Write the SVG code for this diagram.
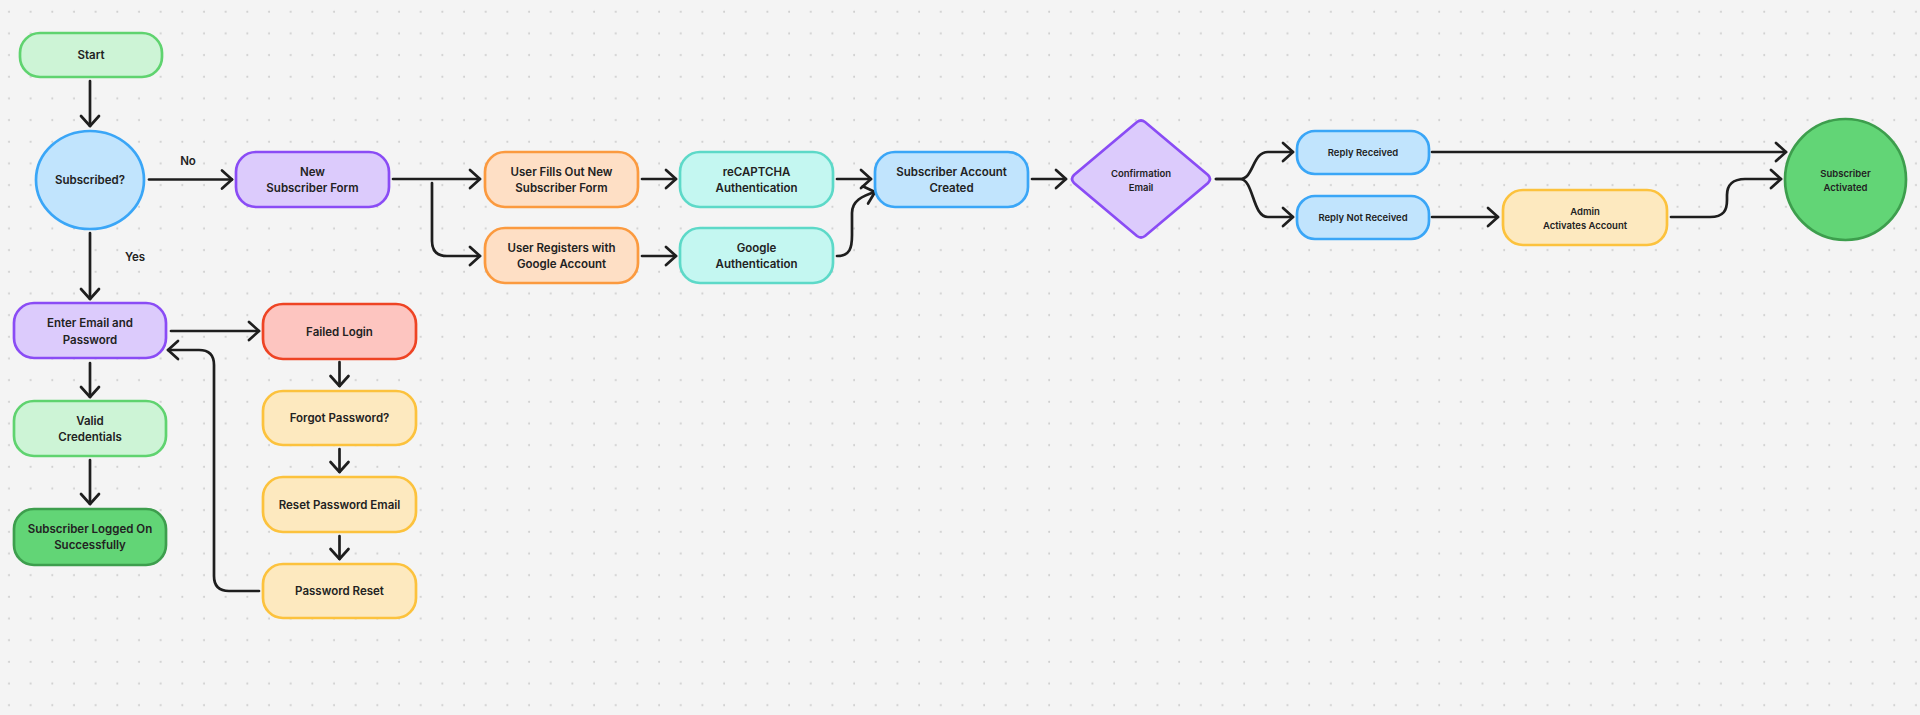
<svg xmlns="http://www.w3.org/2000/svg" width="1920" height="715" viewBox="0 0 1920 715">
<defs>
<pattern id="dots" patternUnits="userSpaceOnUse" x="0" y="0" width="21.67" height="21.67">
<circle cx="9" cy="11.7" r="1" fill="#cdcdcd"/>
</pattern>
<marker id="arr" markerUnits="userSpaceOnUse" viewBox="-13 -12 16 24" markerWidth="16" markerHeight="24" refX="0" refY="0" orient="auto">
<path d="M-10,-9 L0,0 L-10,9" fill="none" stroke="#1e1e1e" stroke-width="2.7" stroke-linecap="round" stroke-linejoin="round"/>
</marker>
<style>
.t{font-family:Inter,"Liberation Sans",sans-serif;font-weight:600;font-size:11.5px;fill:#222;text-anchor:middle;dominant-baseline:central}
.s{font-size:9.5px}
.green{fill:#cdf4d6;stroke:#5fd36f;stroke-width:2.7}
.dgreen{fill:#62d576;stroke:#3d9e4d;stroke-width:2.7}
.blue{fill:#c1e4fd;stroke:#3aa6f7;stroke-width:2.7}
.purple{fill:#dccbfc;stroke:#8a4cf5;stroke-width:2.7}
.red{fill:#fdc5c0;stroke:#ee4424;stroke-width:2.7}
.yellow{fill:#fde9bf;stroke:#fcc23d;stroke-width:2.7}
.orange{fill:#fedfc5;stroke:#fb9a3f;stroke-width:2.7}
.teal{fill:#c4f7f1;stroke:#5dd9c8;stroke-width:2.7}
.c{fill:none;stroke:#1e1e1e;stroke-width:2.7;stroke-linecap:round;stroke-linejoin:round}
</style>
</defs>
<rect width="1920" height="715" fill="#f4f4f4"/>
<rect width="1920" height="715" fill="url(#dots)"/>

<g id="connectors">
<path class="c" marker-end="url(#arr)" d="M90,81 L90,126"/>
<path class="c" marker-end="url(#arr)" d="M149,179.5 L232,179.5"/>
<path class="c" marker-end="url(#arr)" d="M90,233 L90,299"/>
<path class="c" marker-end="url(#arr)" d="M393,179 L480,179"/>
<path class="c" marker-end="url(#arr)" d="M432,183 L432,241 Q432,256 447,256 L480,256"/>
<path class="c" marker-end="url(#arr)" d="M642,179 L676,179"/>
<path class="c" marker-end="url(#arr)" d="M642,256 L676,256"/>
<path class="c" marker-end="url(#arr)" d="M837,179 L871,179"/>
<path class="c" marker-end="url(#arr)" d="M837,256 C850,256 852,248 852,235 L852,213 C852,201 862,196 875,192"/>
<path class="c" marker-end="url(#arr)" d="M1032,179 L1066,179"/>
<path class="c" marker-end="url(#arr)" d="M1216,179 L1240,179 C1254,179 1252,152 1268,152 L1293,152"/>
<path class="c" marker-end="url(#arr)" d="M1216,179 L1240,179 C1254,179 1252,217 1268,217 L1293,217"/>
<path class="c" marker-end="url(#arr)" d="M1432,152 L1786,152"/>
<path class="c" marker-end="url(#arr)" d="M1432,217 L1498,217"/>
<path class="c" marker-end="url(#arr)" d="M1671,217 L1710,217 C1724,217 1727,210 1727,200 L1727,195 C1727,185 1733,179 1745,179 L1781,179"/>
<path class="c" marker-end="url(#arr)" d="M171,331 L259,331"/>
<path class="c" marker-end="url(#arr)" d="M259,591 L229,591 Q214,591 214,576 L214,365 Q214,350 199,350 L168,350"/>
<path class="c" marker-end="url(#arr)" d="M339.5,362 L339.5,386"/>
<path class="c" marker-end="url(#arr)" d="M339.5,449 L339.5,472"/>
<path class="c" marker-end="url(#arr)" d="M339.5,536 L339.5,559"/>
<path class="c" marker-end="url(#arr)" d="M90,363 L90,397"/>
<path class="c" marker-end="url(#arr)" d="M90,460 L90,504"/>
<text class="t" x="188" y="161">No</text>
<text class="t" x="135" y="257">Yes</text>
</g>

<g id="start"><rect class="green" x="20" y="33" width="142" height="44" rx="20"/><text class="t" x="91" y="55">Start</text></g>
<g id="subscribed"><ellipse class="blue" cx="90" cy="180" rx="54" ry="49"/><text class="t" x="90" y="180">Subscribed?</text></g>
<g id="newform"><rect class="purple" x="236" y="152" width="153" height="55" rx="20"/><text class="t" x="312.5" y="172">New</text><text class="t" x="312.5" y="188">Subscriber Form</text></g>
<g id="fillsout"><rect class="orange" x="485" y="152" width="153" height="55" rx="20"/><text class="t" x="561.5" y="172">User Fills Out New</text><text class="t" x="561.5" y="188">Subscriber Form</text></g>
<g id="registers"><rect class="orange" x="485" y="228" width="153" height="55" rx="20"/><text class="t" x="561.5" y="248">User Registers with</text><text class="t" x="561.5" y="264">Google Account</text></g>
<g id="recaptcha"><rect class="teal" x="680" y="152" width="153" height="55" rx="20"/><text class="t" x="756.5" y="172">reCAPTCHA</text><text class="t" x="756.5" y="188">Authentication</text></g>
<g id="googleauth"><rect class="teal" x="680" y="228" width="153" height="55" rx="20"/><text class="t" x="756.5" y="248">Google</text><text class="t" x="756.5" y="264">Authentication</text></g>
<g id="created"><rect class="blue" x="875" y="152" width="153" height="55" rx="20"/><text class="t" x="951.5" y="172">Subscriber Account</text><text class="t" x="951.5" y="188">Created</text></g>
<g id="confirm"><path class="purple" d="M1137,122 Q1141,119 1145,122 L1208,175 Q1212,179 1208,183 L1145,236 Q1141,239 1137,236 L1074,183 Q1070,179 1074,175 Z"/><text class="t s" x="1141" y="173">Confirmation</text><text class="t s" x="1141" y="187">Email</text></g>
<g id="replyreceived"><rect class="blue" x="1297" y="131" width="132" height="43" rx="18"/><text class="t s" x="1363" y="152.5">Reply Received</text></g>
<g id="replynot"><rect class="blue" x="1297" y="196" width="132" height="43" rx="18"/><text class="t s" x="1363" y="217.5">Reply Not Received</text></g>
<g id="admin"><rect class="yellow" x="1503" y="190" width="164" height="55" rx="20"/><text class="t s" x="1585" y="211">Admin</text><text class="t s" x="1585" y="225">Activates Account</text></g>
<g id="activated"><circle class="dgreen" cx="1845.5" cy="179.5" r="60.5"/><text class="t s" x="1845.5" y="173">Subscriber</text><text class="t s" x="1845.5" y="187">Activated</text></g>
<g id="enter"><rect class="purple" x="14" y="303" width="152" height="55" rx="20"/><text class="t" x="90" y="323">Enter Email and</text><text class="t" x="90" y="339.5">Password</text></g>
<g id="valid"><rect class="green" x="14" y="401" width="152" height="55" rx="20"/><text class="t" x="90" y="421">Valid</text><text class="t" x="90" y="437">Credentials</text></g>
<g id="loggedon"><rect class="dgreen" x="14" y="509" width="152" height="56" rx="20"/><text class="t" x="90" y="529">Subscriber Logged On</text><text class="t" x="90" y="545">Successfully</text></g>
<g id="failed"><rect class="red" x="263" y="304" width="153" height="55" rx="20"/><text class="t" x="339.5" y="331.5">Failed Login</text></g>
<g id="forgot"><rect class="yellow" x="263" y="391" width="153" height="54" rx="20"/><text class="t" x="339.5" y="418">Forgot Password?</text></g>
<g id="resetemail"><rect class="yellow" x="263" y="477" width="153" height="55" rx="20"/><text class="t" x="339.5" y="504.5">Reset Password Email</text></g>
<g id="pwreset"><rect class="yellow" x="263" y="564" width="153" height="54" rx="20"/><text class="t" x="339.5" y="591">Password Reset</text></g>
</svg>
